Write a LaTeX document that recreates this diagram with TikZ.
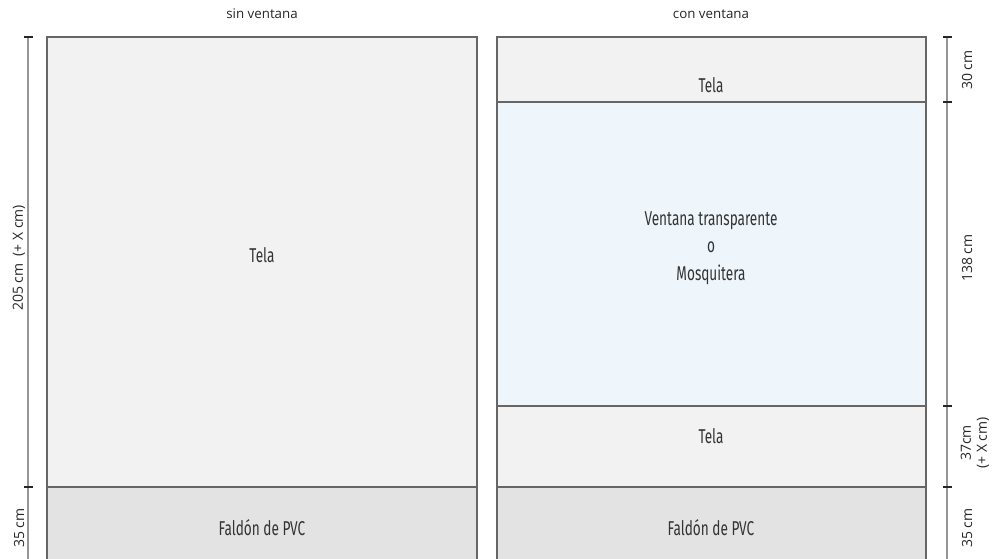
\documentclass[tikz,border=0pt]{standalone}
\usepackage{fontspec}
\newfontfamily\condfont[FakeStretch=0.68]{Fira Sans}
\newfontfamily\smallfont{Open Sans}
\definecolor{panelfill}{RGB}{242,242,242}
\definecolor{skirtfill}{RGB}{227,227,227}
\definecolor{windowfill}{RGB}{238,246,252}
\definecolor{edgegray}{RGB}{102,102,102}
\definecolor{dimgray}{RGB}{150,150,150}
\tikzset{every picture/.style={line width=0.75pt}}
\tikzset{
  panel/.style={draw=edgegray, line width=1.5},
  dimline/.style={draw=dimgray, line width=2},
  dimtick/.style={draw=black!85, line width=1.5},
  parttext/.style={font=\condfont\fontsize{15}{20.5}\selectfont, text=black!80, align=center},
  dimtext/.style={font=\smallfont\fontsize{10.5}{12}\selectfont, text=black!85, rotate=90, align=center},
  headtext/.style={font=\smallfont\fontsize{10}{12}\selectfont, text=black!85}
}

\begin{document}
\begin{tikzpicture}[x=0.75pt,y=0.75pt,yscale=-1,xscale=1]
	\useasboundingbox (0,0) rectangle (992,559);
	
	%Shape: Rectangle [sin ventana] 
	\fill [panelfill] (47,37) rectangle (477,487) ;
	\fill [skirtfill] (47,487) rectangle (477,565) ;
	\draw [panel] (47,565) -- (47,37) -- (477,37) -- (477,565) ;
	\draw [panel] (47,487) -- (477,487) ;
	
	%Shape: Rectangle [con ventana] 
	\fill [panelfill] (497,37) rectangle (926,102) ;
	\fill [windowfill] (497,102) rectangle (926,406) ;
	\fill [panelfill] (497,406) rectangle (926,487) ;
	\fill [skirtfill] (497,487) rectangle (926,565) ;
	\draw [panel] (497,565) -- (497,37) -- (926,37) -- (926,565) ;
	\draw [panel] (497,102) -- (926,102) ;
	\draw [panel] (497,406) -- (926,406) ;
	\draw [panel] (497,487) -- (926,487) ;
	
	%Straight Lines [cotas izquierda] 
	\draw [dimline] (28,37) -- (28,565) ;
	\draw [dimtick] (24,37) -- (33,37) ;
	\draw [dimtick] (24,487) -- (33,487) ;
	
	%Straight Lines [cotas derecha] 
	\draw [dimline] (947,37) -- (947,565) ;
	\draw [dimtick] (943,37) -- (952,37) ;
	\draw [dimtick] (943,102) -- (952,102) ;
	\draw [dimtick] (943,406) -- (952,406) ;
	\draw [dimtick] (943,487) -- (952,487) ;
	
	%Text titles
	\node [headtext] (titleleft) at (262,14) {sin ventana};
	\node [headtext] (titleright) at (711,14) {con ventana};
	
	%Text parts
	\node [parttext] (telaleft) at (262,255) {Tela};
	\node [parttext] (skirtleft) at (262,528) {Faldón de PVC};
	\node [parttext] (telatop) at (711,85) {Tela};
	\node [parttext] (window) at (711,248) {Ventana transparente\\o\\Mosquitera};
	\node [parttext] (telabottom) at (711,436) {Tela};
	\node [parttext] (skirtright) at (711,528) {Faldón de PVC};
	
	%Text dimensions
	\node [dimtext] (dimtotal) at (19,258) {205 cm\ \ (+ X cm)};
	\node [dimtext] (dimskirtleft) at (19,528) {35 cm};
	\node [dimtext] (dimtop) at (967,70) {30 cm};
	\node [dimtext] (dimwindow) at (967,258) {138 cm};
	\node [dimtext] (dimbottom) at (975,443) {37cm\\(+ X cm)};
	\node [dimtext] (dimskirtright) at (967,528) {35 cm};
	
\end{tikzpicture}
\end{document}
